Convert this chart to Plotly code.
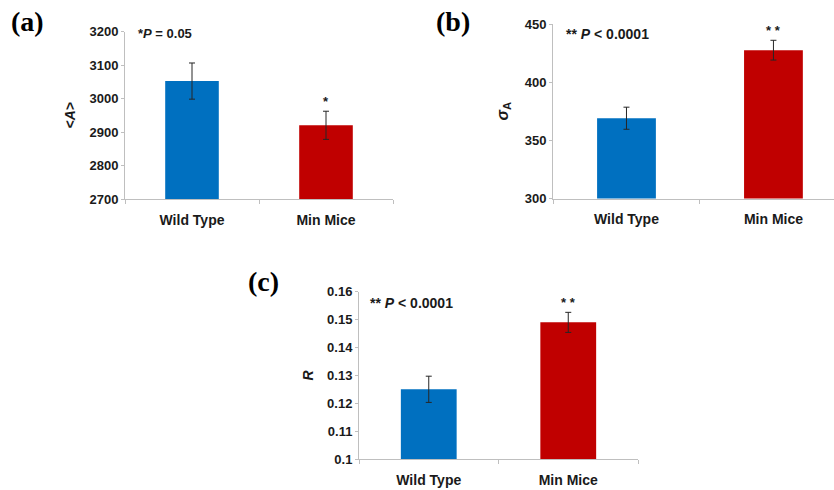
import plotly.graph_objects as go

W, H = 834, 490

categories = ["Wild Type", "Min Mice"]
bar_colors = ["#0070C0", "#C00000"]

a_means = [3052, 2920]
a_err = [54, 42]
a_ticks = [2700, 2800, 2900, 3000, 3100, 3200]

b_means = [369, 427.5]
b_err = [9.5, 8.5]
b_ticks = [300, 350, 400, 450]

c_means = [0.125, 0.149]
c_err = [0.0047, 0.0036]
c_ticks = [0.10, 0.11, 0.12, 0.13, 0.14, 0.15, 0.16]
c_ticktext = ["0.1", "0.11", "0.12", "0.13", "0.14", "0.15", "0.16"]

FONT = "Liberation Sans, Arial, sans-serif"
SERIF = "Liberation Serif, Times New Roman, serif"
AXC = "#BFBFBF"
TXT = "#1a1a1a"


def px_x(x):
    return x / W


def px_y(y):
    return 1 - y / H


fig = go.Figure()

panels = [
    ("", a_means, a_err),
    ("2", b_means, b_err),
    ("3", c_means, c_err),
]
for suf, m, e in panels:
    fig.add_trace(go.Bar(
        x=categories, y=m,
        xaxis="x" + suf, yaxis="y" + suf,
        marker=dict(color=bar_colors, line=dict(width=0)),
        width=0.4,
        error_y=dict(type="data", array=e, color="#262626", thickness=1, width=3),
        showlegend=False,
    ))

xcommon = dict(
    type="category", showline=True, linecolor=AXC, linewidth=1,
    ticks="outside", tickson="boundaries", tickcolor=AXC, ticklen=4,
    showgrid=False, zeroline=False, ticklabelstandoff=8, automargin=False,
    tickfont=dict(family=FONT, size=14, color=TXT),
)
ycommon = dict(
    showline=True, linecolor=AXC, linewidth=1, ticks="outside",
    tickcolor=AXC, ticklen=3, showgrid=False, zeroline=False, automargin=False,
    tickfont=dict(family=FONT, size=13, color=TXT),
)

lab = lambda s: "<b>" + s + "</b>"

fig.update_layout(
    width=W, height=H,
    margin=dict(l=0, r=0, t=0, b=0, autoexpand=False),
    paper_bgcolor="white", plot_bgcolor="white",
    bargap=0.6,
    xaxis=dict(xcommon, domain=[px_x(125), px_x(393)], anchor="y", range=[-0.5, 1.5],
               tickvals=categories, ticktext=[lab(c) for c in categories]),
    yaxis=dict(ycommon, domain=[px_y(199), px_y(31.5)], anchor="x", range=[2700, 3200],
               tickvals=a_ticks, ticktext=[lab(str(t)) for t in a_ticks],
               title=dict(text="<b><i>&lt;A&gt;</i></b>", standoff=10,
                          font=dict(family=FONT, size=14, color=TXT))),
    xaxis2=dict(xcommon, domain=[px_x(553), 1.0], anchor="y2", range=[-0.5, 1.412],
                tickvals=categories, ticktext=[lab(c) for c in categories]),
    yaxis2=dict(ycommon, domain=[px_y(198.5), px_y(24)], anchor="x2", range=[300, 450],
                tickvals=b_ticks, ticktext=[lab(str(t)) for t in b_ticks],
                title=dict(text="<b><i>σ</i><sub>A</sub></b>", standoff=12,
                           font=dict(family=FONT, size=16, color=TXT))),
    xaxis3=dict(xcommon, domain=[px_x(359), px_x(638)], anchor="y3", range=[-0.5, 1.5],
                tickvals=categories, ticktext=[lab(c) for c in categories]),
    yaxis3=dict(ycommon, domain=[px_y(459), px_y(291.7)], anchor="x3", range=[0.10, 0.16],
                tickvals=c_ticks, ticktext=[lab(t) for t in c_ticktext],
                title=dict(text="<b><i>R</i></b>", standoff=10,
                           font=dict(family=FONT, size=14, color=TXT))),
)

ann = []
# panel letters
for txt, x, y in [("(a)", 9, 22), ("(b)", 434, 22), ("(c)", 246, 281)]:
    ann.append(dict(text="<b>" + txt + "</b>", x=px_x(x), y=px_y(y), xref="paper", yref="paper",
                    xanchor="left", yanchor="middle", showarrow=False,
                    font=dict(family=SERIF, size=28, color="black")))
# P-value texts
for txt, x, y, s in [("<b>*<i>P</i> = 0.05</b>", 136, 34, 13),
                     ("<b>** <i>P</i> &lt; 0.0001</b>", 564, 34, 14),
                     ("<b>** <i>P</i> &lt; 0.0001</b>", 368, 303, 14)]:
    ann.append(dict(text=txt, x=px_x(x), y=px_y(y), xref="paper", yref="paper",
                    xanchor="left", yanchor="middle", showarrow=False,
                    font=dict(family=FONT, size=s, color=TXT)))
# significance stars above red bars
for suf, m, e, s in [("", a_means, a_err, "*"), ("2", b_means, b_err, "* *"), ("3", c_means, c_err, "* *")]:
    ann.append(dict(text="<b>" + s + "</b>", x=categories[1], y=m[1] + e[1],
                    xref="x" + suf, yref="y" + suf, xanchor="center", yanchor="bottom",
                    yshift=0, showarrow=False,
                    font=dict(family=FONT, size=13, color=TXT)))
fig.update_layout(annotations=ann)

fig.write_html(
    "out.html",
    config={"displayModeBar": False},
    post_script="document.body.style.margin='0px';document.body.style.overflow='hidden';",
)
